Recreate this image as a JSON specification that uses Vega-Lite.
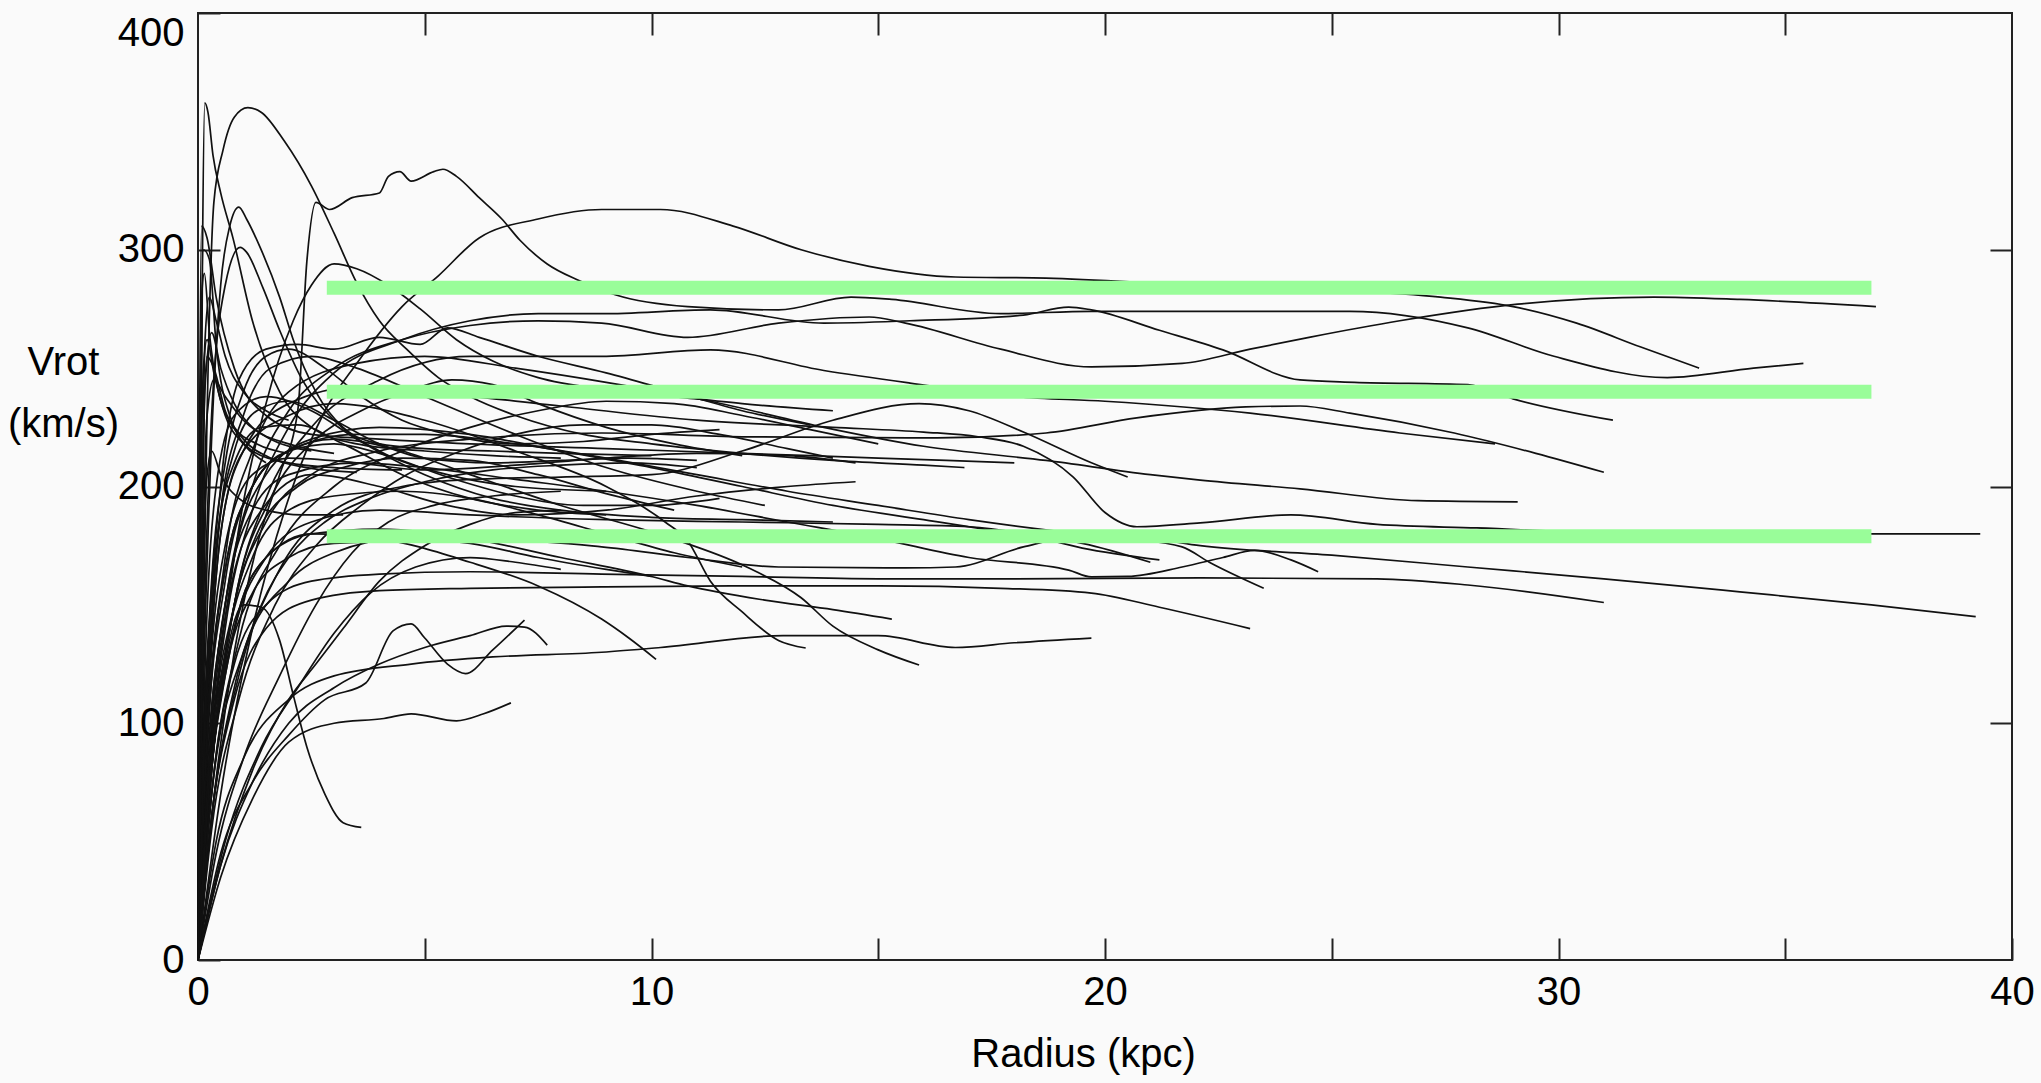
{
"$schema":"https://vega.github.io/schema/vega-lite/v6.json",
"width":1814,"height":947,
"autosize":{"type":"none"},
"padding":{"left":198,"top":13,"right":29,"bottom":123},
"background":"#fafafa",
"config":{"view":{"stroke":"#222","strokeWidth":2},"axis":{"labelFont":"Liberation Sans","titleFont":"Liberation Sans","labelColor":"#000","titleColor":"#000","labelFontSize":40,"titleFontSize":40,"titleFontWeight":"normal","tickColor":"#222","tickWidth":2,"tickSize":-22,"domain":false,"grid":false,"labelOverlap":false}},
"datasets":{
"bars":[{"x0":2.84,"x1":36.9,"v":284},{"x0":2.84,"x1":36.9,"v":240},{"x0":2.84,"x1":36.9,"v":179}],
"curves":[
{"g":1,"r":0,"v":0},{"g":1,"r":0.05,"v":150},{"g":1,"r":0.1,"v":300},{"g":1,"r":0.15,"v":362},{"g":1,"r":0.22,"v":358},{"g":1,"r":0.33,"v":340},{"g":1,"r":0.5,"v":324},{"g":1,"r":0.77,"v":305},{"g":1,"r":1.2,"v":270},{"g":1,"r":1.8,"v":240},{"g":1,"r":2.5,"v":225},{"g":1,"r":3.5,"v":218},{"g":1,"r":5,"v":215},{"g":1,"r":6.5,"v":213},{"g":1,"r":8,"v":212},
{"g":2,"r":0,"v":0},{"g":2,"r":0.1,"v":120},{"g":2,"r":0.2,"v":230},{"g":2,"r":0.35,"v":320},{"g":2,"r":0.55,"v":342},{"g":2,"r":0.8,"v":356},{"g":2,"r":1.1,"v":360},{"g":2,"r":1.4,"v":358},{"g":2,"r":1.9,"v":346},{"g":2,"r":2.5,"v":327},{"g":2,"r":3,"v":307},{"g":2,"r":3.5,"v":286},{"g":2,"r":4,"v":270},{"g":2,"r":4.6,"v":258},{"g":2,"r":5.3,"v":246},{"g":2,"r":6,"v":238},{"g":2,"r":7,"v":230},{"g":2,"r":8.5,"v":222},{"g":2,"r":10,"v":218},{"g":2,"r":12,"v":214},{"g":2,"r":14,"v":211},{"g":2,"r":16,"v":209},{"g":2,"r":16.9,"v":208},
{"g":3,"r":0,"v":0},{"g":3,"r":0.1,"v":100},{"g":3,"r":0.3,"v":220},{"g":3,"r":0.5,"v":285},{"g":3,"r":0.7,"v":310},{"g":3,"r":0.9,"v":318},{"g":3,"r":1.07,"v":313},{"g":3,"r":1.37,"v":301},{"g":3,"r":1.8,"v":280},{"g":3,"r":2.1,"v":262},{"g":3,"r":2.6,"v":240},{"g":3,"r":3.2,"v":225},{"g":3,"r":4,"v":218},{"g":3,"r":5,"v":216},{"g":3,"r":6.5,"v":215},{"g":3,"r":8,"v":214},{"g":3,"r":10,"v":213},
{"g":4,"r":0,"v":0},{"g":4,"r":0.1,"v":110},{"g":4,"r":0.3,"v":230},{"g":4,"r":0.6,"v":285},{"g":4,"r":0.93,"v":301},{"g":4,"r":1.07,"v":299},{"g":4,"r":1.43,"v":284},{"g":4,"r":1.8,"v":266},{"g":4,"r":2.3,"v":245},{"g":4,"r":3,"v":228},{"g":4,"r":4,"v":215},{"g":4,"r":5.5,"v":205},{"g":4,"r":7,"v":200},{"g":4,"r":9,"v":198},
{"g":5,"r":0,"v":0},{"g":5,"r":0.05,"v":200},{"g":5,"r":0.12,"v":300},{"g":5,"r":0.25,"v":296},{"g":5,"r":0.4,"v":260},{"g":5,"r":0.7,"v":230},{"g":5,"r":1.2,"v":215},{"g":5,"r":2,"v":210},{"g":5,"r":3,"v":208},{"g":5,"r":4.5,"v":207},
{"g":6,"r":0,"v":0},{"g":6,"r":0.03,"v":200},{"g":6,"r":0.08,"v":310},{"g":6,"r":0.2,"v":305},{"g":6,"r":0.4,"v":280},{"g":6,"r":0.8,"v":250},{"g":6,"r":1.5,"v":230},{"g":6,"r":2.5,"v":222},{"g":6,"r":4,"v":220},{"g":6,"r":6,"v":218},{"g":6,"r":9,"v":216},{"g":6,"r":12,"v":214},{"g":6,"r":15,"v":212},{"g":6,"r":18,"v":210},
{"g":7,"r":0,"v":0},{"g":7,"r":0.3,"v":60},{"g":7,"r":0.8,"v":130},{"g":7,"r":1.3,"v":175},{"g":7,"r":1.8,"v":205},{"g":7,"r":2.2,"v":232},{"g":7,"r":2.4,"v":295},{"g":7,"r":2.6,"v":320},{"g":7,"r":2.9,"v":317},{"g":7,"r":3.4,"v":322},{"g":7,"r":4,"v":324},{"g":7,"r":4.2,"v":331},{"g":7,"r":4.45,"v":333},{"g":7,"r":4.7,"v":329},{"g":7,"r":5.2,"v":333},{"g":7,"r":5.4,"v":334},{"g":7,"r":5.7,"v":331},{"g":7,"r":6.2,"v":322},{"g":7,"r":6.7,"v":313},{"g":7,"r":7.1,"v":304},{"g":7,"r":7.7,"v":294},{"g":7,"r":8.4,"v":287},{"g":7,"r":9.2,"v":281},{"g":7,"r":10.8,"v":276},{"g":7,"r":12.8,"v":274.6},{"g":7,"r":14.4,"v":280},{"g":7,"r":15.3,"v":279},{"g":7,"r":17.7,"v":273},{"g":7,"r":19.7,"v":274},{"g":7,"r":23.2,"v":274},{"g":7,"r":25.4,"v":274},{"g":7,"r":28,"v":267},{"g":7,"r":29.9,"v":255},{"g":7,"r":32.4,"v":246},{"g":7,"r":34.3,"v":250},{"g":7,"r":35.4,"v":252},
{"g":8,"r":0,"v":0},{"g":8,"r":0.5,"v":70},{"g":8,"r":1.2,"v":140},{"g":8,"r":2,"v":195},{"g":8,"r":2.8,"v":232},{"g":8,"r":3.5,"v":252},{"g":8,"r":4.5,"v":276},{"g":8,"r":5.3,"v":289},{"g":8,"r":6.2,"v":305},{"g":8,"r":7.5,"v":313},{"g":8,"r":8.9,"v":317},{"g":8,"r":10.2,"v":317},{"g":8,"r":11.8,"v":310},{"g":8,"r":13.3,"v":300},{"g":8,"r":14.8,"v":293},{"g":8,"r":16.7,"v":288.5},{"g":8,"r":18.7,"v":288},{"g":8,"r":22,"v":285},{"g":8,"r":25,"v":283},{"g":8,"r":27.4,"v":280},{"g":8,"r":29,"v":276},{"g":8,"r":30.4,"v":269},{"g":8,"r":31.8,"v":259},{"g":8,"r":33.1,"v":250},
{"g":9,"r":0,"v":0},{"g":9,"r":0.2,"v":80},{"g":9,"r":0.6,"v":150},{"g":9,"r":1.2,"v":200},{"g":9,"r":2,"v":232},{"g":9,"r":3,"v":250},{"g":9,"r":4.5,"v":262},{"g":9,"r":6,"v":268},{"g":9,"r":7.5,"v":270},{"g":9,"r":8.9,"v":269},{"g":9,"r":10.8,"v":263},{"g":9,"r":12.8,"v":269},{"g":9,"r":14.8,"v":271.6},{"g":9,"r":15.6,"v":269},{"g":9,"r":17.7,"v":258},{"g":9,"r":19.7,"v":250.5},{"g":9,"r":21.7,"v":252},{"g":9,"r":23.2,"v":258},{"g":9,"r":24.5,"v":263},{"g":9,"r":26.5,"v":270},{"g":9,"r":29.1,"v":277},{"g":9,"r":32.1,"v":280},{"g":9,"r":34,"v":279},{"g":9,"r":37,"v":276},
{"g":10,"r":0,"v":0},{"g":10,"r":0.2,"v":70},{"g":10,"r":0.6,"v":140},{"g":10,"r":1.2,"v":190},{"g":10,"r":2,"v":225},{"g":10,"r":3,"v":248},{"g":10,"r":4.5,"v":262},{"g":10,"r":6,"v":270},{"g":10,"r":7.5,"v":273},{"g":10,"r":8.9,"v":273},{"g":10,"r":11.3,"v":274.6},{"g":10,"r":13.8,"v":269},{"g":10,"r":15.7,"v":270},{"g":10,"r":18.2,"v":272.4},{"g":10,"r":19.2,"v":275.8},{"g":10,"r":19.7,"v":274.6},{"g":10,"r":21.2,"v":266},{"g":10,"r":22.6,"v":257.7},{"g":10,"r":24.3,"v":245},{"g":10,"r":25.5,"v":244},{"g":10,"r":28,"v":243},{"g":10,"r":29,"v":237},{"g":10,"r":31.2,"v":228},
{"g":11,"r":0,"v":0},{"g":11,"r":0.3,"v":90},{"g":11,"r":0.8,"v":150},{"g":11,"r":1.5,"v":185},{"g":11,"r":2.5,"v":205},{"g":11,"r":4,"v":215},{"g":11,"r":6,"v":220},{"g":11,"r":8.9,"v":222.6},{"g":11,"r":12,"v":221},{"g":11,"r":16.3,"v":220.5},{"g":11,"r":18.7,"v":222.6},{"g":11,"r":20.7,"v":229},{"g":11,"r":23.1,"v":233.6},{"g":11,"r":24.3,"v":234},{"g":11,"r":25.4,"v":231},{"g":11,"r":27.7,"v":222.6},{"g":11,"r":29.5,"v":214},{"g":11,"r":31,"v":206},
{"g":12,"r":0,"v":0},{"g":12,"r":0.3,"v":80},{"g":12,"r":0.8,"v":150},{"g":12,"r":1.5,"v":195},{"g":12,"r":2.5,"v":225},{"g":12,"r":4,"v":245},{"g":12,"r":6,"v":255},{"g":12,"r":8.9,"v":255},{"g":12,"r":11.3,"v":257.7},{"g":12,"r":13.8,"v":249},{"g":12,"r":15.7,"v":243.7},{"g":12,"r":18,"v":238},{"g":12,"r":20,"v":236},{"g":12,"r":23.2,"v":231},{"g":12,"r":26.5,"v":222.6},{"g":12,"r":28.6,"v":218},
{"g":13,"r":0,"v":0},{"g":13,"r":0.2,"v":90},{"g":13,"r":0.6,"v":170},{"g":13,"r":1.2,"v":215},{"g":13,"r":2,"v":240},{"g":13,"r":3.5,"v":252},{"g":13,"r":5,"v":255},{"g":13,"r":7,"v":250},{"g":13,"r":9,"v":244},{"g":13,"r":11.3,"v":236},{"g":13,"r":13.8,"v":225},{"g":13,"r":16,"v":217},{"g":13,"r":18.7,"v":211},{"g":13,"r":21,"v":205},{"g":13,"r":22.1,"v":202.7},{"g":13,"r":24.3,"v":199},{"g":13,"r":26.9,"v":194},{"g":13,"r":29.1,"v":193.5},
{"g":14,"r":0,"v":0},{"g":14,"r":0.2,"v":100},{"g":14,"r":0.5,"v":180},{"g":14,"r":1,"v":215},{"g":14,"r":2,"v":235},{"g":14,"r":3.5,"v":242},{"g":14,"r":5,"v":240},{"g":14,"r":8,"v":234},{"g":14,"r":11,"v":228},{"g":14,"r":14,"v":225},{"g":14,"r":16,"v":223},{"g":14,"r":17.2,"v":221},{"g":14,"r":18.2,"v":217},{"g":14,"r":19.3,"v":204},{"g":14,"r":20,"v":189},{"g":14,"r":20.7,"v":183},{"g":14,"r":22.1,"v":184.6},{"g":14,"r":24.1,"v":188},{"g":14,"r":26,"v":184},{"g":14,"r":28.2,"v":182.5},{"g":14,"r":32,"v":180},{"g":14,"r":36,"v":180},{"g":14,"r":39.3,"v":180},
{"g":15,"r":0,"v":0},{"g":15,"r":0.2,"v":60},{"g":15,"r":0.6,"v":120},{"g":15,"r":1.2,"v":155},{"g":15,"r":2,"v":170},{"g":15,"r":3,"v":176},{"g":15,"r":5,"v":177},{"g":15,"r":7,"v":177},{"g":15,"r":8.9,"v":174.5},{"g":15,"r":10.8,"v":170},{"g":15,"r":12.8,"v":166},{"g":15,"r":15.6,"v":165.6},{"g":15,"r":16.7,"v":166},{"g":15,"r":18.2,"v":174.5},{"g":15,"r":19.5,"v":179},{"g":15,"r":21,"v":178},{"g":15,"r":22.1,"v":175},{"g":15,"r":25,"v":171},{"g":15,"r":28,"v":166},{"g":15,"r":31,"v":161},{"g":15,"r":34,"v":155.5},{"g":15,"r":36.9,"v":150},{"g":15,"r":39.2,"v":145},
{"g":16,"r":0,"v":0},{"g":16,"r":0.2,"v":80},{"g":16,"r":0.6,"v":150},{"g":16,"r":1.2,"v":190},{"g":16,"r":2,"v":205},{"g":16,"r":3.5,"v":210},{"g":16,"r":5,"v":208},{"g":16,"r":7,"v":203},{"g":16,"r":9,"v":198},{"g":16,"r":11,"v":192},{"g":16,"r":13,"v":185},{"g":16,"r":15,"v":178},{"g":16,"r":17,"v":170},{"g":16,"r":19.2,"v":164.7},{"g":16,"r":19.7,"v":161.8},{"g":16,"r":20.5,"v":162},{"g":16,"r":21.7,"v":166},{"g":16,"r":22.6,"v":170},{"g":16,"r":23.3,"v":173},{"g":16,"r":24.1,"v":169},{"g":16,"r":24.7,"v":164},
{"g":17,"r":0,"v":0},{"g":17,"r":0.3,"v":70},{"g":17,"r":0.8,"v":125},{"g":17,"r":1.5,"v":150},{"g":17,"r":2.5,"v":160},{"g":17,"r":4,"v":163},{"g":17,"r":6,"v":164},{"g":17,"r":8.9,"v":163},{"g":17,"r":12,"v":162},{"g":17,"r":15,"v":161},{"g":17,"r":18,"v":161},{"g":17,"r":22.1,"v":161.4},{"g":17,"r":26,"v":161},{"g":17,"r":28,"v":158.4},{"g":17,"r":31,"v":151},
{"g":18,"r":0,"v":0},{"g":18,"r":0.2,"v":90},{"g":18,"r":0.6,"v":165},{"g":18,"r":1.2,"v":200},{"g":18,"r":2,"v":215},{"g":18,"r":3.5,"v":222},{"g":18,"r":5,"v":222},{"g":18,"r":7,"v":218},{"g":18,"r":9,"v":212},{"g":18,"r":11,"v":205},{"g":18,"r":13,"v":198},{"g":18,"r":15,"v":192},{"g":18,"r":17,"v":186},{"g":18,"r":19,"v":181},{"g":18,"r":20.5,"v":178},{"g":18,"r":21.7,"v":174.5},{"g":18,"r":22.3,"v":168},{"g":18,"r":23.5,"v":157},
{"g":19,"r":0,"v":0},{"g":19,"r":0.3,"v":100},{"g":19,"r":0.8,"v":170},{"g":19,"r":1.5,"v":205},{"g":19,"r":2.5,"v":220},{"g":19,"r":4,"v":225},{"g":19,"r":6,"v":222},{"g":19,"r":8,"v":215},{"g":19,"r":10,"v":208},{"g":19,"r":12,"v":200},{"g":19,"r":14,"v":192},{"g":19,"r":16,"v":186},{"g":19,"r":18,"v":180},{"g":19,"r":19.5,"v":176},{"g":19,"r":21,"v":168},
{"g":20,"r":0,"v":0},{"g":20,"r":0.2,"v":60},{"g":20,"r":0.7,"v":130},{"g":20,"r":1.5,"v":170},{"g":20,"r":2.5,"v":185},{"g":20,"r":4,"v":190},{"g":20,"r":6,"v":188},{"g":20,"r":9,"v":186},{"g":20,"r":12,"v":185},{"g":20,"r":15,"v":184},{"g":20,"r":17,"v":183},{"g":20,"r":18.2,"v":180},{"g":20,"r":19.5,"v":174},{"g":20,"r":21.2,"v":169},
{"g":21,"r":0,"v":0},{"g":21,"r":0.3,"v":60},{"g":21,"r":0.8,"v":110},{"g":21,"r":1.5,"v":140},{"g":21,"r":2.5,"v":152},{"g":21,"r":4,"v":156},{"g":21,"r":6,"v":157},{"g":21,"r":8.9,"v":157.6},{"g":21,"r":12,"v":158},{"g":21,"r":15,"v":158},{"g":21,"r":17.7,"v":157},{"g":21,"r":19.7,"v":155},{"g":21,"r":21.2,"v":149},{"g":21,"r":23.2,"v":140},
{"g":22,"r":0,"v":0},{"g":22,"r":0.3,"v":60},{"g":22,"r":0.9,"v":120},{"g":22,"r":1.8,"v":165},{"g":22,"r":3,"v":190},{"g":22,"r":4.5,"v":200},{"g":22,"r":6,"v":203},{"g":22,"r":8,"v":204},{"g":22,"r":10,"v":205},{"g":22,"r":12,"v":215},{"g":22,"r":14,"v":228},{"g":22,"r":15.9,"v":235},{"g":22,"r":17,"v":232},{"g":22,"r":18.2,"v":223},{"g":22,"r":19.7,"v":210},{"g":22,"r":20.5,"v":204},
{"g":23,"r":0,"v":0},{"g":23,"r":0.4,"v":50},{"g":23,"r":1,"v":85},{"g":23,"r":2,"v":110},{"g":23,"r":3,"v":120},{"g":23,"r":4.7,"v":125},{"g":23,"r":6.5,"v":128},{"g":23,"r":8.9,"v":130},{"g":23,"r":10.2,"v":132},{"g":23,"r":12.9,"v":137},{"g":23,"r":15,"v":137},{"g":23,"r":16.7,"v":132},{"g":23,"r":18,"v":134},{"g":23,"r":19.7,"v":136},
{"g":24,"r":0,"v":0},{"g":24,"r":0.3,"v":80},{"g":24,"r":0.8,"v":140},{"g":24,"r":1.5,"v":170},{"g":24,"r":2.5,"v":180},{"g":24,"r":4,"v":182},{"g":24,"r":6,"v":178},{"g":24,"r":8,"v":170},{"g":24,"r":10,"v":162},{"g":24,"r":10.8,"v":158},{"g":24,"r":12.5,"v":152},{"g":24,"r":14,"v":148},{"g":24,"r":15.3,"v":144},
{"g":25,"r":0,"v":0},{"g":25,"r":0.2,"v":90},{"g":25,"r":0.6,"v":160},{"g":25,"r":1.2,"v":200},{"g":25,"r":2,"v":215},{"g":25,"r":3,"v":220},{"g":25,"r":4.5,"v":215},{"g":25,"r":6,"v":205},{"g":25,"r":8,"v":192},{"g":25,"r":10.3,"v":179},{"g":25,"r":12.1,"v":166},{"g":25,"r":13.3,"v":153},{"g":25,"r":14,"v":141},{"g":25,"r":15,"v":131},{"g":25,"r":15.9,"v":124.6},
{"g":26,"r":0,"v":0},{"g":26,"r":0.2,"v":100},{"g":26,"r":0.5,"v":180},{"g":26,"r":1,"v":215},{"g":26,"r":2,"v":230},{"g":26,"r":3,"v":235},{"g":26,"r":5,"v":228},{"g":26,"r":7,"v":215},{"g":26,"r":9,"v":200},{"g":26,"r":10.3,"v":185},{"g":26,"r":10.8,"v":177},{"g":26,"r":11.3,"v":160},{"g":26,"r":12,"v":147},{"g":26,"r":12.8,"v":135},{"g":26,"r":13.4,"v":131.8},
{"g":27,"r":0,"v":0},{"g":27,"r":0.3,"v":80},{"g":27,"r":0.8,"v":140},{"g":27,"r":1.5,"v":170},{"g":27,"r":2.5,"v":180},{"g":27,"r":4,"v":178},{"g":27,"r":6,"v":168},{"g":27,"r":7.5,"v":158},{"g":27,"r":8.9,"v":144},{"g":27,"r":9.5,"v":136},{"g":27,"r":10.1,"v":127},
{"g":28,"r":0,"v":0},{"g":28,"r":0.5,"v":45},{"g":28,"r":1.2,"v":75},{"g":28,"r":2,"v":95},{"g":28,"r":2.8,"v":110},{"g":28,"r":3.7,"v":117},{"g":28,"r":4.3,"v":139},{"g":28,"r":4.7,"v":142},{"g":28,"r":5,"v":136},{"g":28,"r":5.5,"v":125},{"g":28,"r":5.9,"v":121},{"g":28,"r":6.5,"v":131},{"g":28,"r":7.2,"v":143.6},
{"g":29,"r":0,"v":0},{"g":29,"r":0.5,"v":40},{"g":29,"r":1.2,"v":75},{"g":29,"r":2,"v":100},{"g":29,"r":3,"v":115},{"g":29,"r":4,"v":125},{"g":29,"r":5,"v":132},{"g":29,"r":6,"v":137},{"g":29,"r":6.8,"v":141},{"g":29,"r":7.2,"v":140.6},{"g":29,"r":7.7,"v":133},
{"g":30,"r":0,"v":0},{"g":30,"r":0.5,"v":35},{"g":30,"r":1.2,"v":68},{"g":30,"r":2,"v":92},{"g":30,"r":3,"v":100},{"g":30,"r":4.1,"v":102},{"g":30,"r":4.7,"v":104},{"g":30,"r":5.7,"v":101},{"g":30,"r":6.3,"v":104},{"g":30,"r":6.9,"v":108.6},
{"g":31,"r":0,"v":0},{"g":31,"r":0.2,"v":60},{"g":31,"r":0.6,"v":125},{"g":31,"r":1,"v":150},{"g":31,"r":1.4,"v":149},{"g":31,"r":1.8,"v":135},{"g":31,"r":2.1,"v":112},{"g":31,"r":2.4,"v":90},{"g":31,"r":2.8,"v":70},{"g":31,"r":3.2,"v":58},{"g":31,"r":3.6,"v":56},
{"g":32,"r":0,"v":0},{"g":32,"r":0.5,"v":40},{"g":32,"r":1.2,"v":80},{"g":32,"r":2,"v":110},{"g":32,"r":2.6,"v":125},{"g":32,"r":3.2,"v":140},{"g":32,"r":4,"v":160},{"g":32,"r":5,"v":175},{"g":32,"r":6,"v":184},{"g":32,"r":7,"v":189},{"g":32,"r":8,"v":190},
{"g":33,"r":0,"v":0},{"g":33,"r":0.4,"v":45},{"g":33,"r":1,"v":85},{"g":33,"r":1.8,"v":120},{"g":33,"r":2.6,"v":150},{"g":33,"r":3.4,"v":172},{"g":33,"r":4.2,"v":185},{"g":33,"r":5.2,"v":192},{"g":33,"r":6.5,"v":196},{"g":33,"r":8,"v":198},
{"g":34,"r":0,"v":0},{"g":34,"r":0.6,"v":50},{"g":34,"r":1.4,"v":90},{"g":34,"r":2.2,"v":115},{"g":34,"r":3,"v":138},{"g":34,"r":3.8,"v":155},{"g":34,"r":4.8,"v":166},{"g":34,"r":6,"v":170},{"g":34,"r":7,"v":168},{"g":34,"r":8,"v":165},
{"g":35,"r":0,"v":0},{"g":35,"r":0.2,"v":110},{"g":35,"r":0.5,"v":190},{"g":35,"r":1,"v":230},{"g":35,"r":1.6,"v":250},{"g":35,"r":2.5,"v":255},{"g":35,"r":3.5,"v":250},{"g":35,"r":5,"v":238},{"g":35,"r":7,"v":222},{"g":35,"r":9,"v":208},{"g":35,"r":11,"v":198},{"g":35,"r":12.5,"v":192},
{"g":36,"r":0,"v":0},{"g":36,"r":0.3,"v":80},{"g":36,"r":0.8,"v":150},{"g":36,"r":1.6,"v":195},{"g":36,"r":2.6,"v":220},{"g":36,"r":3.6,"v":232},{"g":36,"r":4.6,"v":240},{"g":36,"r":5.6,"v":245},{"g":36,"r":6.5,"v":243},{"g":36,"r":7.5,"v":235},{"g":36,"r":9,"v":225},{"g":36,"r":10.5,"v":218},{"g":36,"r":12,"v":213},
{"g":37,"r":0,"v":0},{"g":37,"r":0.15,"v":120},{"g":37,"r":0.4,"v":200},{"g":37,"r":0.8,"v":230},{"g":37,"r":1.5,"v":238},{"g":37,"r":2.5,"v":232},{"g":37,"r":3.5,"v":220},{"g":37,"r":5,"v":205},{"g":37,"r":6.5,"v":195},{"g":37,"r":8,"v":190},{"g":37,"r":10,"v":187},{"g":37,"r":12,"v":186},{"g":37,"r":14,"v":185},
{"g":38,"r":0,"v":0},{"g":38,"r":0.3,"v":70},{"g":38,"r":0.9,"v":135},{"g":38,"r":1.8,"v":175},{"g":38,"r":3,"v":200},{"g":38,"r":4.5,"v":215},{"g":38,"r":6,"v":225},{"g":38,"r":7.5,"v":232},{"g":38,"r":9,"v":236},{"g":38,"r":10.5,"v":235},{"g":38,"r":12,"v":230},{"g":38,"r":13.5,"v":224},{"g":38,"r":15,"v":218},
{"g":39,"r":0,"v":0},{"g":39,"r":0.2,"v":100},{"g":39,"r":0.6,"v":175},{"g":39,"r":1.2,"v":205},{"g":39,"r":2,"v":212},{"g":39,"r":3.5,"v":210},{"g":39,"r":5,"v":207},{"g":39,"r":7,"v":209},{"g":39,"r":9,"v":212},{"g":39,"r":11,"v":214},{"g":39,"r":13,"v":213},{"g":39,"r":14.5,"v":210},
{"g":40,"r":0,"v":0},{"g":40,"r":0.25,"v":85},{"g":40,"r":0.7,"v":155},{"g":40,"r":1.4,"v":190},{"g":40,"r":2.5,"v":205},{"g":40,"r":4,"v":200},{"g":40,"r":5.5,"v":192},{"g":40,"r":7,"v":188},{"g":40,"r":9,"v":190},{"g":40,"r":11,"v":196},{"g":40,"r":13,"v":200},{"g":40,"r":14.5,"v":202},
{"g":41,"r":0,"v":0},{"g":41,"r":0.2,"v":120},{"g":41,"r":0.5,"v":200},{"g":41,"r":0.9,"v":245},{"g":41,"r":1.5,"v":258},{"g":41,"r":2.2,"v":260},{"g":41,"r":3,"v":258},{"g":41,"r":4,"v":263},{"g":41,"r":4.9,"v":260},{"g":41,"r":5.5,"v":267},{"g":41,"r":6.2,"v":263},{"g":41,"r":7.5,"v":255},{"g":41,"r":9,"v":248},{"g":41,"r":10.5,"v":240},{"g":41,"r":12,"v":232},{"g":41,"r":13.5,"v":226},
{"g":42,"r":0,"v":0},{"g":42,"r":0.3,"v":90},{"g":42,"r":0.8,"v":170},{"g":42,"r":1.5,"v":235},{"g":42,"r":2.1,"v":270},{"g":42,"r":2.5,"v":285},{"g":42,"r":3,"v":294},{"g":42,"r":3.5,"v":292},{"g":42,"r":4.2,"v":285},{"g":42,"r":4.9,"v":275},{"g":42,"r":5.7,"v":262},{"g":42,"r":6.5,"v":253},{"g":42,"r":7.5,"v":246},{"g":42,"r":9,"v":241},{"g":42,"r":10.5,"v":238},{"g":42,"r":12,"v":235},{"g":42,"r":14,"v":232},
{"g":43,"r":0,"v":0},{"g":43,"r":0.15,"v":90},{"g":43,"r":0.4,"v":170},{"g":43,"r":0.8,"v":215},{"g":43,"r":1.3,"v":232},{"g":43,"r":2,"v":236},{"g":43,"r":3,"v":228},{"g":43,"r":4,"v":218},{"g":43,"r":5,"v":212},{"g":43,"r":6.5,"v":210},{"g":43,"r":8,"v":211},{"g":43,"r":9.5,"v":212},{"g":43,"r":11,"v":211},
{"g":44,"r":0,"v":0},{"g":44,"r":0.2,"v":70},{"g":44,"r":0.6,"v":130},{"g":44,"r":1.2,"v":170},{"g":44,"r":2,"v":190},{"g":44,"r":3,"v":196},{"g":44,"r":4.5,"v":198},{"g":44,"r":6,"v":195},{"g":44,"r":7.5,"v":188},{"g":44,"r":9,"v":180},{"g":44,"r":10.5,"v":172},{"g":44,"r":12,"v":166},
{"g":45,"r":0,"v":0},{"g":45,"r":0.1,"v":80},{"g":45,"r":0.3,"v":160},{"g":45,"r":0.6,"v":210},{"g":45,"r":1,"v":240},{"g":45,"r":1.5,"v":255},{"g":45,"r":2,"v":258},{"g":45,"r":2.8,"v":250},{"g":45,"r":3.6,"v":238},{"g":45,"r":4.5,"v":228},{"g":45,"r":5.5,"v":222},{"g":45,"r":7,"v":218},{"g":45,"r":8.5,"v":219},{"g":45,"r":10,"v":222},{"g":45,"r":11.5,"v":224},
{"g":46,"r":0,"v":0},{"g":46,"r":0.3,"v":60},{"g":46,"r":0.8,"v":115},{"g":46,"r":1.4,"v":150},{"g":46,"r":2,"v":170},{"g":46,"r":2.8,"v":185},{"g":46,"r":3.8,"v":195},{"g":46,"r":5,"v":202},{"g":46,"r":6.5,"v":207},{"g":46,"r":8,"v":209},{"g":46,"r":9.5,"v":210},{"g":46,"r":11,"v":208},
{"g":47,"r":0,"v":0},{"g":47,"r":0.3,"v":70},{"g":47,"r":1,"v":130},{"g":47,"r":2,"v":160},{"g":47,"r":3,"v":172},{"g":47,"r":4.5,"v":178},{"g":47,"r":6,"v":176},{"g":47,"r":7.5,"v":170},{"g":47,"r":9,"v":165},{"g":47,"r":10,"v":162},
{"g":48,"r":0,"v":0},{"g":48,"r":0.05,"v":100},{"g":48,"r":0.1,"v":200},{"g":48,"r":0.15,"v":260},{"g":48,"r":0.25,"v":280},{"g":48,"r":0.4,"v":270},{"g":48,"r":0.6,"v":255},{"g":48,"r":1,"v":240},{"g":48,"r":1.5,"v":232},{"g":48,"r":2,"v":228},
{"g":49,"r":0,"v":0},{"g":49,"r":0.08,"v":150},{"g":49,"r":0.15,"v":240},{"g":49,"r":0.3,"v":265},{"g":49,"r":0.5,"v":250},{"g":49,"r":0.8,"v":235},{"g":49,"r":1.2,"v":225},{"g":49,"r":2,"v":218},{"g":49,"r":3,"v":214},
{"g":50,"r":0,"v":0},{"g":50,"r":0.05,"v":80},{"g":50,"r":0.12,"v":180},{"g":50,"r":0.2,"v":230},{"g":50,"r":0.35,"v":245},{"g":50,"r":0.6,"v":238},{"g":50,"r":1,"v":228},{"g":50,"r":1.6,"v":220},{"g":50,"r":2.5,"v":215},
{"g":51,"r":0,"v":0},{"g":51,"r":0.2,"v":95},{"g":51,"r":0.6,"v":165},{"g":51,"r":1.2,"v":200},{"g":51,"r":2,"v":215},{"g":51,"r":3,"v":218},{"g":51,"r":4,"v":214},{"g":51,"r":5.5,"v":204},{"g":51,"r":7,"v":196},{"g":51,"r":8.5,"v":192},{"g":51,"r":10,"v":192},{"g":51,"r":11.5,"v":195},
{"g":52,"r":0,"v":0},{"g":52,"r":0.25,"v":75},{"g":52,"r":0.7,"v":140},{"g":52,"r":1.3,"v":180},{"g":52,"r":2.2,"v":200},{"g":52,"r":3.2,"v":208},{"g":52,"r":4.5,"v":212},{"g":52,"r":6,"v":211},{"g":52,"r":7.5,"v":205},{"g":52,"r":9,"v":197},{"g":52,"r":10.5,"v":190},
{"g":53,"r":0,"v":0},{"g":53,"r":0.15,"v":100},{"g":53,"r":0.4,"v":175},{"g":53,"r":0.8,"v":210},{"g":53,"r":1.4,"v":225},{"g":53,"r":2.2,"v":226},{"g":53,"r":3.2,"v":218},{"g":53,"r":4.5,"v":205},{"g":53,"r":6,"v":195},{"g":53,"r":7.5,"v":190},{"g":53,"r":9,"v":188},
{"g":54,"r":0,"v":0},{"g":54,"r":0.3,"v":55},{"g":54,"r":0.9,"v":110},{"g":54,"r":1.7,"v":150},{"g":54,"r":2.6,"v":175},{"g":54,"r":3.6,"v":192},{"g":54,"r":4.6,"v":205},{"g":54,"r":5.8,"v":215},{"g":54,"r":7,"v":222},{"g":54,"r":8.5,"v":226},{"g":54,"r":10,"v":226},{"g":54,"r":11.5,"v":222},{"g":54,"r":13,"v":216},{"g":54,"r":14,"v":212},
{"g":55,"r":0,"v":0},{"g":55,"r":0.04,"v":180},{"g":55,"r":0.08,"v":280},{"g":55,"r":0.14,"v":290},{"g":55,"r":0.25,"v":265},{"g":55,"r":0.45,"v":240},{"g":55,"r":0.8,"v":225},{"g":55,"r":1.3,"v":218},{"g":55,"r":2,"v":214},
{"g":56,"r":0,"v":0},{"g":56,"r":0.06,"v":120},{"g":56,"r":0.12,"v":220},{"g":56,"r":0.2,"v":255},{"g":56,"r":0.35,"v":250},{"g":56,"r":0.6,"v":232},{"g":56,"r":1,"v":220},{"g":56,"r":1.6,"v":212},{"g":56,"r":2.4,"v":208},{"g":56,"r":3.5,"v":206},
{"g":57,"r":0,"v":0},{"g":57,"r":0.03,"v":100},{"g":57,"r":0.07,"v":200},{"g":57,"r":0.12,"v":250},{"g":57,"r":0.2,"v":262},{"g":57,"r":0.35,"v":248},{"g":57,"r":0.6,"v":230},{"g":57,"r":1,"v":218},{"g":57,"r":1.5,"v":210},
{"g":58,"r":0,"v":0},{"g":58,"r":0.05,"v":60},{"g":58,"r":0.1,"v":140},{"g":58,"r":0.18,"v":200},{"g":58,"r":0.3,"v":215},{"g":58,"r":0.5,"v":205},{"g":58,"r":0.9,"v":195},{"g":58,"r":1.5,"v":190},{"g":58,"r":2.3,"v":188},{"g":58,"r":3.2,"v":188}
]},
"layer":[
{"data":{"name":"curves"},
 "mark":{"type":"line","interpolate":"monotone","color":"#111","strokeWidth":1.7},
 "encoding":{
  "x":{"field":"r","type":"quantitative","scale":{"domain":[0,40],"nice":false,"zero":false},
   "axis":{"orient":"bottom","values":[0,5,10,15,20,25,30,35,40],"labelExpr":"datum.value % 10 == 0 ? datum.label : ''","labelPadding":34,"labelBaseline":"top","labelFlush":false,
    "title":"Radius (kpc)","titleX":885,"titleY":74,"titleBaseline":"top","titleAlign":"center","titleAnchor":null}},
  "y":{"field":"v","type":"quantitative","scale":{"domain":[0,400],"nice":false},
   "axis":{"orient":"left","values":[0,100,200,300,400],"labelPadding":36,"labelFlush":false,"labelBaseline":{"expr":"datum.value == 400 ? 'top' : 'middle'"},
    "title":["Vrot","(km/s)"],"titleAngle":0,"titleX":-135,"titleY":329,"titleBaseline":"top","titleAlign":"center","titleAnchor":null,"titleLineHeight":62}},
  "detail":{"field":"g","type":"nominal"}}},
{"data":{"name":"bars"},
 "mark":{"type":"rule","color":"#99fd99","strokeWidth":14,"strokeCap":"butt"},
 "encoding":{
  "x":{"field":"x0","type":"quantitative","scale":{"domain":[0,40],"nice":false,"zero":false},
   "axis":{"orient":"top","values":[5,10,15,20,25,30,35],"labels":false,"title":null}},
  "x2":{"field":"x1"},
  "y":{"field":"v","type":"quantitative","scale":{"domain":[0,400],"nice":false},
   "axis":{"orient":"right","values":[100,200,300],"labels":false,"title":null}}}}
],
"resolve":{"axis":{"x":"independent","y":"independent"}}
}
